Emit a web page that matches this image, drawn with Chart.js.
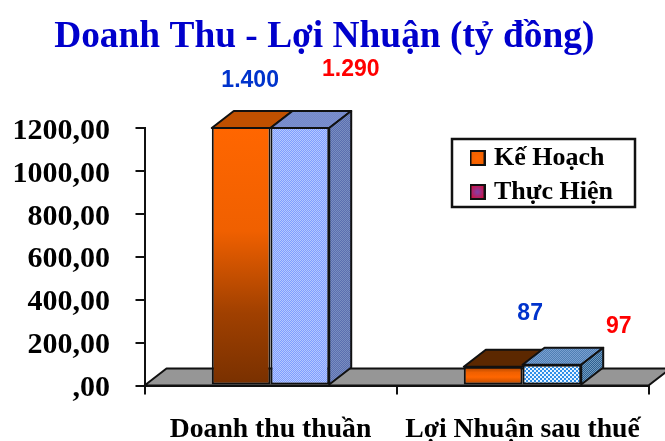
<!DOCTYPE html>
<html lang="vi">
<head>
    <meta charset="UTF-8">
    <title>Doanh Thu - Lợi Nhuận</title>
    <script src="https://cdn.jsdelivr.net/npm/chart.js@4"></script>
    <style>
        html, body { margin: 0; padding: 0; background: #fff; }
        canvas { display: block; }
    </style>
</head>
<body>
<canvas id="chart" width="665" height="441"></canvas>

<script>
    var categories = ["Doanh thu thuần", "Lợi Nhuận sau thuế"];
    var keHoach = [1400, 87];
    var thucHien = [1290, 97];
    var yTickLabels = [",00", "200,00", "400,00", "600,00", "800,00", "1000,00", "1200,00"];
    var yMax = 1200;
    var yStep = 200;
    var titleText = "Doanh Thu - Lợi Nhuận (tỷ đồng)";

    var SERIF = "'Liberation Serif', serif";
    var DEPTH_X = 22, DEPTH_Y = -17;

    // gradient stops for the orange fronts, one list per category
    var orangeStops = [
        [[0, "#ff6600"], [0.4, "#f06000"], [0.72, "#a04000"], [1, "#783000"]],
        [[0, "#a84400"], [0.3, "#f06000"], [0.55, "#ff6600"], [1, "#a84400"]]
    ];
    var blueFront = [["#7f9dff", "#b4c8ff"], ["#2f8fe8", "#e8f4ff"]];
    var orangeTop = ["#c05000", "#5c2800"];
    var blueTop = [["#7488c8", "#7c90d0"], ["#4f7fb4", "#7aa0d0"]];
    var blueSide = [["#5a6eb0", "#7a8ec0"], ["#2f5f90", "#6f9cc0"]];

    // where the value labels sit relative to the top of each column: [category][series]
    var labelOffsets = [[[9, -47], [51, -58]], [[37, -53], [67, -38]]];
    var labelColors = ["#0033cc", "#ff0000"];

    var checker = function(a, b, cell) {
        var n = cell || 1;
        var c = document.createElement("canvas");
        c.width = 2 * n; c.height = 2 * n;
        var g = c.getContext("2d");
        g.fillStyle = a; g.fillRect(0, 0, 2 * n, 2 * n);
        g.fillStyle = b; g.fillRect(0, 0, n, n); g.fillRect(n, n, n, n);
        return document.getElementById("chart").getContext("2d").createPattern(c, "repeat");
    };

    var swatch = function(stops) {
        var c = document.createElement("canvas");
        c.width = 16; c.height = 16;
        var g = c.getContext("2d");
        var grad = g.createRadialGradient(8, 8, 1, 8, 8, 8);
        stops.forEach(function(s) { grad.addColorStop(s[0], s[1]); });
        g.fillStyle = grad;
        g.fillRect(1, 1, 14, 14);
        g.lineWidth = 2;
        g.strokeStyle = "#111";
        g.strokeRect(1, 1, 14, 14);
        return c;
    };

    var orangeFill = function(ctx) {
        var chart = ctx.chart;
        if (!chart.chartArea || ctx.type !== "data") return "#ff6600";
        var y = chart.scales.y;
        var top = Math.max(y.getPixelForValue(ctx.raw), chart.chartArea.top);
        var grad = chart.ctx.createLinearGradient(0, top, 0, y.getPixelForValue(0));
        orangeStops[ctx.dataIndex].forEach(function(s) { grad.addColorStop(s[0], s[1]); });
        return grad;
    };

    var poly = function(g, pts, fill) {
        g.beginPath();
        g.moveTo(pts[0][0], pts[0][1]);
        for (var i = 1; i < pts.length; i++) g.lineTo(pts[i][0], pts[i][1]);
        g.closePath();
        g.fillStyle = fill;
        g.fill();
        g.stroke();
    };

    var box3d = {
        id: "box3d",
        afterLayout: function(chart) {
            // legend floats over the plot
            var lg = chart.legend;
            lg.left = 466;
            lg.right = 665;
            lg.top = 137;
            lg.bottom = 441;
        },
        beforeDatasetsDraw: function(chart) {
            var g = chart.ctx, a = chart.chartArea;
            g.save();
            g.lineWidth = 2;
            g.strokeStyle = "#111";
            g.lineJoin = "round";
            // floor
            poly(g, [[a.left, a.bottom], [a.left + DEPTH_X, a.bottom + DEPTH_Y],
                [a.right + DEPTH_X, a.bottom + DEPTH_Y], [a.right, a.bottom]], "#969696");
            // top and side faces of the columns
            categories.forEach(function(c, i) {
                [0, 1].forEach(function(ds) {
                    var bar = chart.getDatasetMeta(ds).data[i];
                    var l = bar.x - bar.width / 2, r = bar.x + bar.width / 2;
                    var t = Math.max(bar.y, a.top), b = bar.base;
                    var topFill = ds === 0 ? orangeTop[i] : checker(blueTop[i][0], blueTop[i][1]);
                    poly(g, [[l, t], [l + DEPTH_X, t + DEPTH_Y], [r + DEPTH_X, t + DEPTH_Y], [r, t]], topFill);
                    if (ds === 1) {
                        poly(g, [[r, t], [r + DEPTH_X, t + DEPTH_Y], [r + DEPTH_X, b + DEPTH_Y], [r, b]],
                            checker(blueSide[i][0], blueSide[i][1]));
                    }
                });
            });
            g.restore();
        },
        afterDatasetsDraw: function(chart) {
            var g = chart.ctx, a = chart.chartArea;
            g.save();
            g.lineWidth = 2;
            g.strokeStyle = "#111";
            // the tall columns run past the axis max, close them at the clip line
            [0, 1].forEach(function(ds) {
                var bar = chart.getDatasetMeta(ds).data[0];
                g.beginPath();
                g.moveTo(bar.x - bar.width / 2, a.top);
                g.lineTo(bar.x + bar.width / 2, a.top);
                g.stroke();
            });
            // legend frame
            g.lineWidth = 2.5;
            g.strokeRect(452, 139, 183, 68);
            // value labels
            g.font = "bold 23px 'Liberation Sans', sans-serif";
            g.textAlign = "center";
            g.textBaseline = "middle";
            [keHoach, thucHien].forEach(function(series, ds) {
                series.forEach(function(v, i) {
                    var bar = chart.getDatasetMeta(ds).data[i];
                    var off = labelOffsets[i][ds];
                    g.fillStyle = labelColors[ds];
                    g.fillText(v.toLocaleString("de-DE"), bar.x + off[0], Math.max(bar.y, a.top) + off[1]);
                });
            });
            g.restore();
        }
    };

    var ctx = document.getElementById("chart").getContext("2d");
    var chart = new Chart(ctx, {
        type: "bar",
        plugins: [box3d],
        data: {
            labels: categories,
            datasets: [
                {
                    label: "Kế Hoạch",
                    data: keHoach,
                    backgroundColor: orangeFill,
                    borderColor: "#111",
                    borderWidth: 2,
                    borderSkipped: false
                },
                {
                    label: "Thực Hiện",
                    data: thucHien,
                    backgroundColor: function(c) {
                        var i = c.dataIndex || 0;
                        return checker(blueFront[i][0], blueFront[i][1], i + 1);
                    },
                    borderColor: "#111",
                    borderWidth: 2,
                    borderSkipped: false
                }
            ]
        },
        options: {
            responsive: false,
            animation: false,
            events: [],
            layout: { padding: { left: 0, right: 16.5, top: 0, bottom: 0 } },
            datasets: { bar: { categoryPercentage: 0.466, barPercentage: 1 } },
            plugins: {
                tooltip: { enabled: false },
                title: {
                    display: true,
                    text: titleText,
                    color: "#0000cc",
                    font: { family: SERIF, size: 37.4, weight: "bold" },
                    padding: { top: 15, bottom: 68.1 }
                },
                legend: {
                    position: "chartArea",
                    align: "start",
                    labels: {
                        usePointStyle: true,
                        boxWidth: 7,
                        boxHeight: 7,
                        padding: 8,
                        color: "#000",
                        font: { family: SERIF, size: 26, weight: "bold" },
                        generateLabels: function(chart) {
                            return chart.data.datasets.map(function(d, i) {
                                return {
                                    text: d.label,
                                    datasetIndex: i,
                                    lineWidth: 0,
                                    pointStyle: i === 0
                                        ? swatch([[0, "#ff6600"], [1, "#f06000"]])
                                        : swatch([[0, "#8a3ca0"], [1, "#d01040"]])
                                };
                            });
                        }
                    }
                }
            },
            scales: {
                x: {
                    afterFit: function(s) { s.height = 55.5; },
                    border: { color: "#111", width: 2 },
                    grid: { drawOnChartArea: false, color: "#111", lineWidth: 2, tickLength: 9 },
                    ticks: {
                        color: "#000",
                        maxRotation: 0,
                        autoSkip: false,
                        padding: 19,
                        font: { family: SERIF, size: 27.7, weight: "bold" }
                    }
                },
                y: {
                    min: 0,
                    max: yMax,
                    afterFit: function(s) { s.width = 144.5; },
                    border: { color: "#111", width: 2 },
                    grid: { drawOnChartArea: false, color: "#111", lineWidth: 2, tickLength: 9 },
                    ticks: {
                        stepSize: yStep,
                        color: "#000",
                        padding: 25.5,
                        labelOffset: 3,
                        font: { family: SERIF, size: 30, weight: "bold" },
                        callback: function(v, i) { return yTickLabels[i]; }
                    }
                }
            }
        }
    });
</script>
</body>
</html>
